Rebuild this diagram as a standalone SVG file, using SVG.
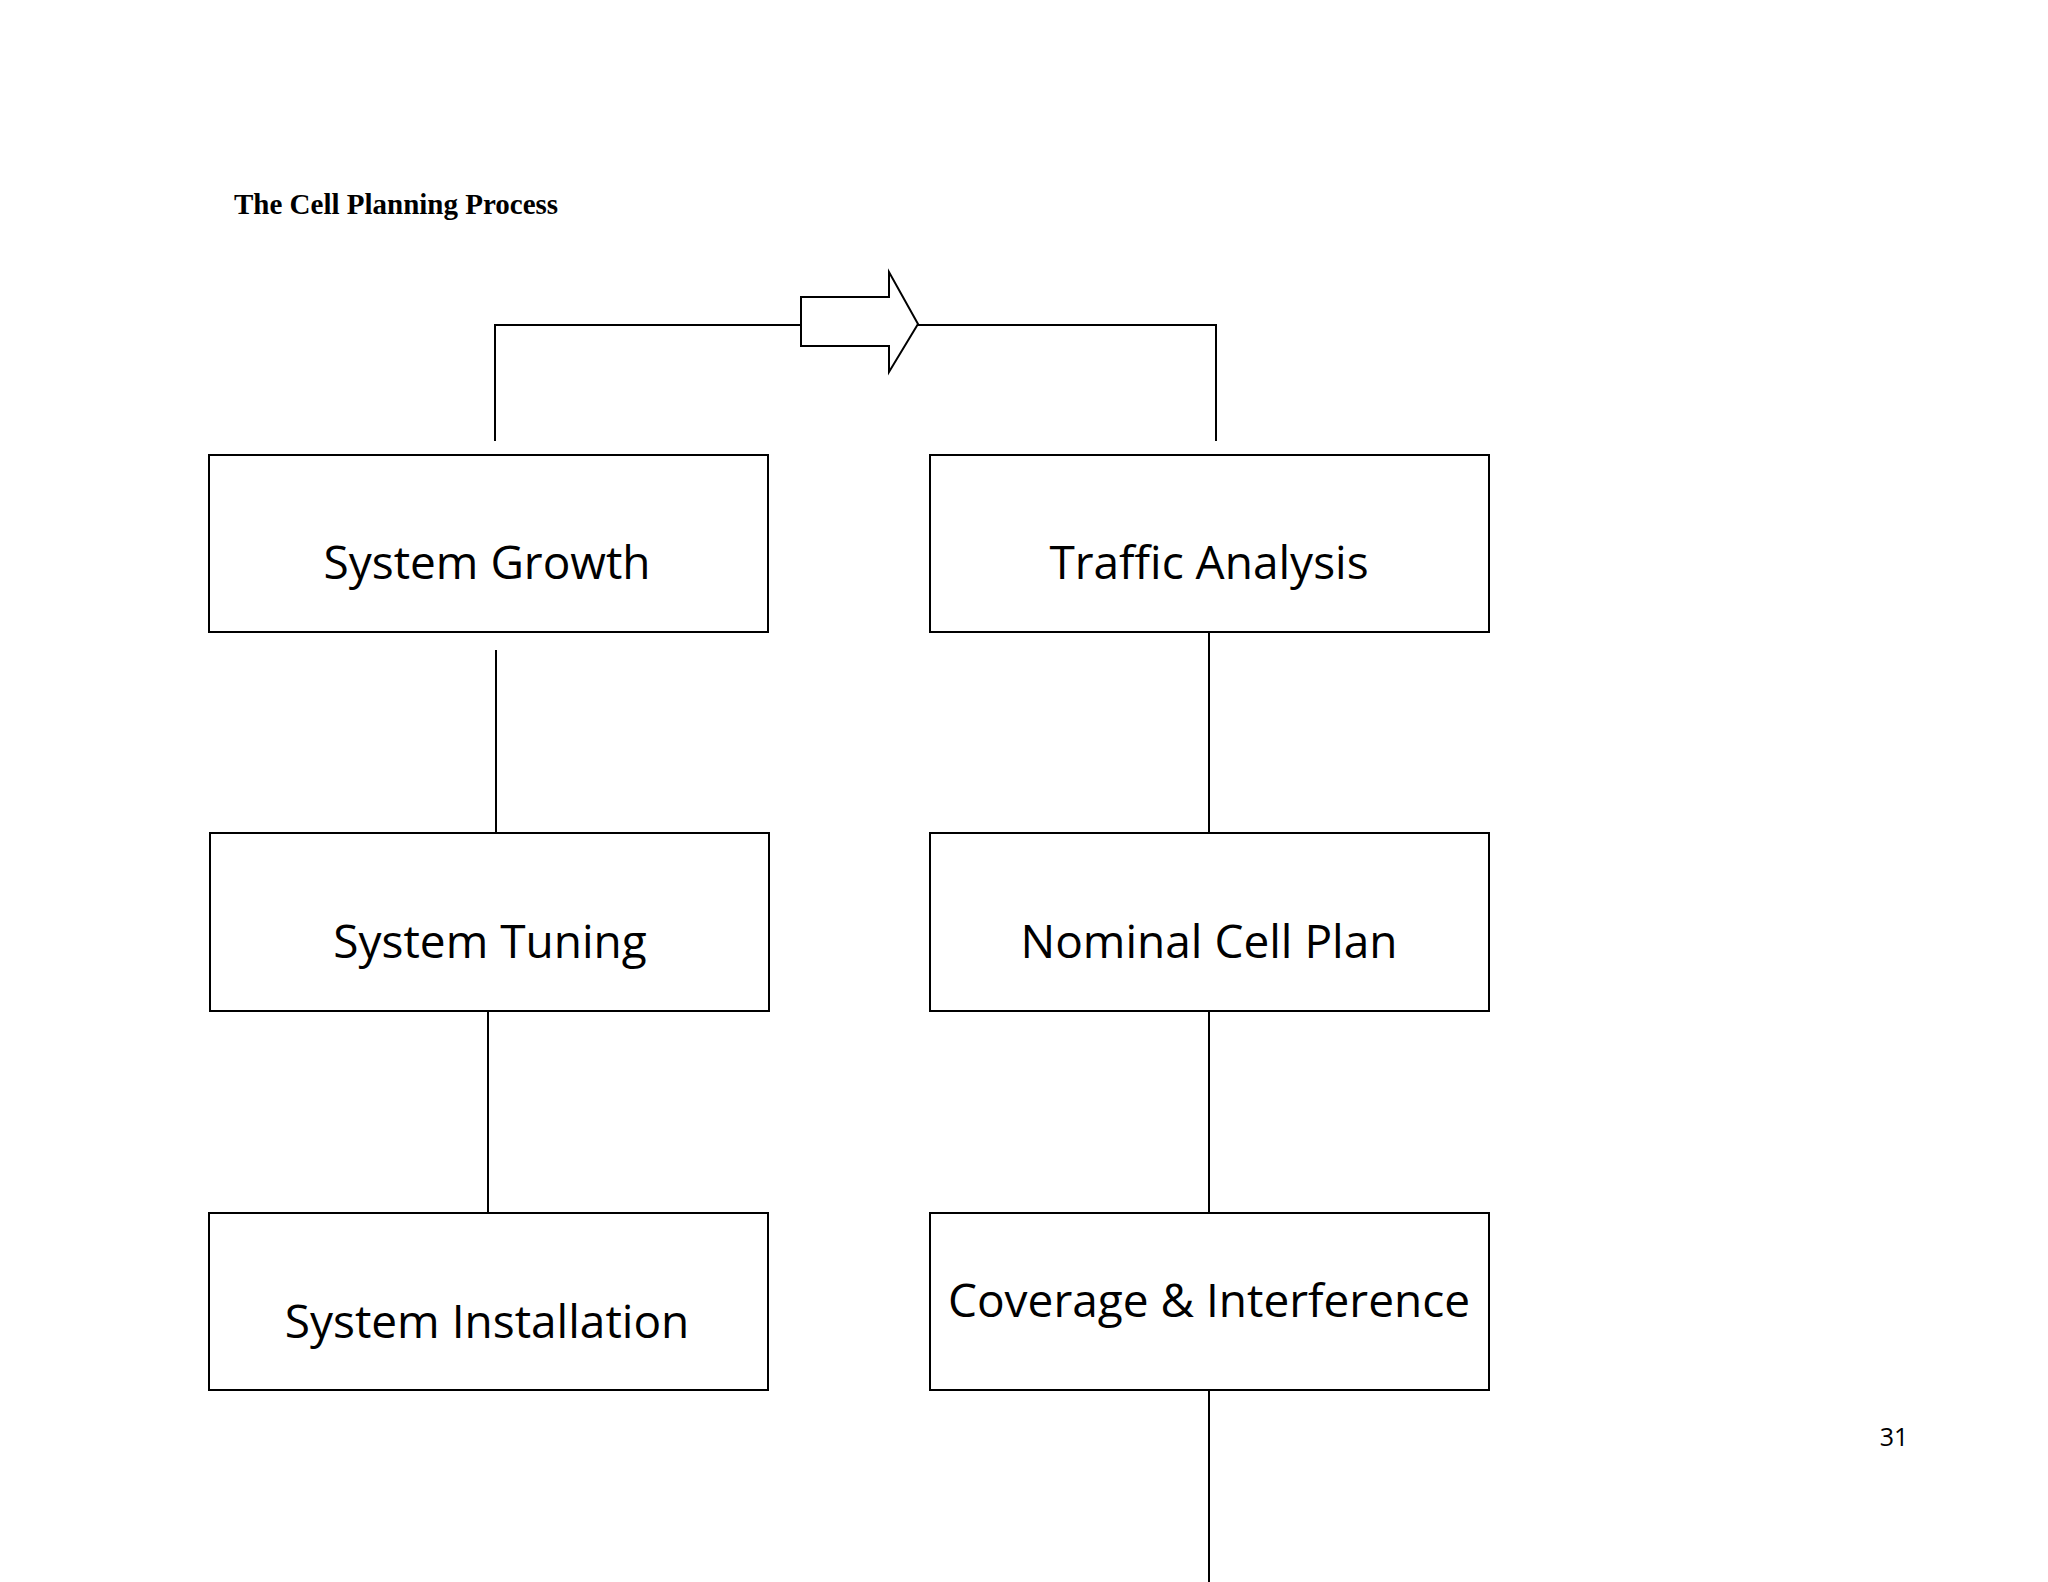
<svg xmlns="http://www.w3.org/2000/svg" width="2048" height="1582" viewBox="0 0 2048 1582">
<style>
.b{fill:#fff;stroke:#000;stroke-width:2}
.t{font-family:"Open Sans","Noto Sans",sans-serif;font-size:46px;text-anchor:middle;fill:#000}
.c line,.c path{stroke:#000;stroke-width:2;fill:none}
</style>
<rect width="2048" height="1582" fill="#fff"/>
<text x="234" y="214" font-family="Liberation Serif,serif" font-weight="bold" font-size="29">The Cell Planning Process</text>
<text x="1894" y="1446" font-family="Open Sans,sans-serif" font-size="25" text-anchor="middle">31</text>
<g class="c" id="connectors">
<path d="M495 441 V325 H801"/>
<path d="M918 325 H1216 V441"/>
<path d="M801 297 H889 V272 L918 324 L889 372 V346 H801 Z" fill="#fff"/>
<line x1="496" y1="650" x2="496" y2="854"/>
<line x1="488" y1="1011" x2="488" y2="1213"/>
<line x1="1209" y1="632" x2="1209" y2="833"/>
<line x1="1209" y1="1011" x2="1209" y2="1213"/>
<line x1="1209" y1="1390" x2="1209" y2="1582"/>
</g>
<g id="growth"><rect class="b" x="209" y="455" width="559" height="177"/><text class="t" x="487" y="579">System Growth</text></g>
<g id="traffic"><rect class="b" x="930" y="455" width="559" height="177"/><text class="t" x="1209" y="579">Traffic Analysis</text></g>
<g id="tuning"><rect class="b" x="210" y="833" width="559" height="178"/><text class="t" x="490" y="958">System Tuning</text></g>
<g id="nominal"><rect class="b" x="930" y="833" width="559" height="178"/><text class="t" x="1209" y="958">Nominal Cell Plan</text></g>
<g id="install"><rect class="b" x="209" y="1213" width="559" height="177"/><text class="t" x="487" y="1338">System Installation</text></g>
<g id="coverage"><rect class="b" x="930" y="1213" width="559" height="177"/><text class="t" x="1209" y="1317">Coverage &amp; Interference</text></g>
</svg>
